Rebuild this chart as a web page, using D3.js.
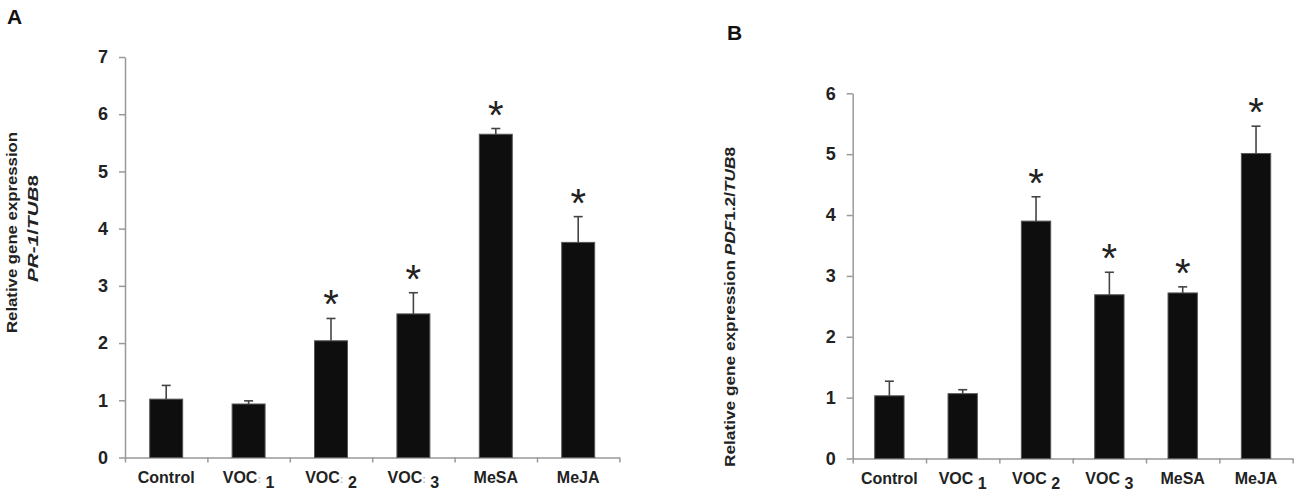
<!DOCTYPE html>
<html>
<head>
<meta charset="utf-8">
<script src="https://cdn.jsdelivr.net/npm/d3@7"></script>
<style>
  body { margin: 0; background: #fff; }
  svg { display: block; font-family: "Liberation Sans", Arial, sans-serif; }
  .axis path, .axis line { stroke: #999; stroke-width: 1.5; }
  .axis text { fill: #222; font-weight: bold; }
</style>
</head>
<body>
<div id="viz"></div>
<script>
// categories (main text + subscript)
const catMain = ["Control", "VOC", "VOC", "VOC", "MeSA", "MeJA"];
const catSub = ["", "1", "2", "3", "", ""];

// panel A: PR-1/TUB8
const meansA = [1.02, 0.935, 2.04, 2.51, 5.65, 3.76];
const errA = [0.24, 0.055, 0.39, 0.37, 0.10, 0.45];
const sigA = [false, false, true, true, true, true];
const ticksA = [0, 1, 2, 3, 4, 5, 6, 7];

// panel B: PDF1.2/TUB8
const meansB = [1.03, 1.065, 3.90, 2.69, 2.72, 5.01];
const errB = [0.24, 0.065, 0.40, 0.37, 0.10, 0.45];
const sigB = [false, false, true, true, true, true];
const ticksB = [0, 1, 2, 3, 4, 5, 6];

const svg = d3.select("#viz").append("svg")
  .attr("width", 1300)
  .attr("height", 498);

const drawPanel = function(p) {
  const g = svg.append("g");
  const n = catMain.length;

  const x = d3.scaleBand()
    .domain(d3.range(n))
    .range([p.x0, p.x1])
    .paddingInner(0.6)
    .paddingOuter(0.3);
  const cx = i => x(i) + x.bandwidth() / 2;

  // boundaries between categories, used for the x tick marks
  const xb = d3.scaleLinear()
    .domain([0, n])
    .range([p.x0, p.x1]);

  const y = d3.scaleLinear()
    .domain([0, d3.max(p.ticks)])
    .range([p.y0, p.y1]);

  // y axis
  g.append("g")
    .attr("class", "axis")
    .attr("transform", `translate(${p.x0},0)`)
    .call(d3.axisLeft(y).tickValues(p.ticks).tickFormat(d3.format("d"))
      .tickSize(6).tickSizeOuter(0).tickPadding(11))
    .selectAll("text")
      .style("font-size", "18px");

  // x axis line + boundary ticks
  g.append("g")
    .attr("class", "axis")
    .attr("transform", `translate(0,${p.y0})`)
    .call(d3.axisBottom(xb).tickValues(d3.range(n + 1)).tickSize(5).tickSizeOuter(0).tickFormat(""));

  // x labels
  catMain.forEach(function(d, i) {
    const t = g.append("text")
      .attr("x", cx(i))
      .attr("y", p.y0 + 25)
      .attr("text-anchor", "middle")
      .style("font-size", "16px")
      .style("font-weight", "bold")
      .style("fill", "#222")
      .text(d);
    if (catSub[i] !== "") {
      if (p.colon) {
        t.append("tspan").style("fill", "#bbb").style("font-size", "11px").text(":");
      }
      t.append("tspan")
        .attr("dy", 5)
        .text(" " + catSub[i]);
    }
  });

  // bars
  g.selectAll(".bar")
    .data(p.means)
    .enter().append("rect")
      .attr("class", "bar")
      .attr("x", (d, i) => x(i))
      .attr("y", d => y(d))
      .attr("width", x.bandwidth())
      .attr("height", d => p.y0 - y(d))
      .attr("fill", "#0e0e0e")
      .attr("stroke", "#555")
      .attr("stroke-width", 1);

  // error bars (upper only)
  const eb = g.selectAll(".err")
    .data(p.means)
    .enter().append("g")
      .attr("class", "err")
      .attr("stroke", "#444")
      .attr("stroke-width", 1.6);
  eb.append("line")
    .attr("x1", (d, i) => cx(i))
    .attr("x2", (d, i) => cx(i))
    .attr("y1", d => y(d))
    .attr("y2", (d, i) => y(d + p.err[i]));
  eb.append("line")
    .attr("x1", (d, i) => cx(i) - 4.5)
    .attr("x2", (d, i) => cx(i) + 4.5)
    .attr("y1", (d, i) => y(d + p.err[i]))
    .attr("y2", (d, i) => y(d + p.err[i]));

  // significance stars
  const fs = 40;
  p.means.forEach(function(d, i) {
    if (!p.sig[i]) return;
    g.append("text")
      .attr("x", cx(i))
      .attr("y", y(d + p.err[i]) - 22 + 0.55 * fs)
      .attr("text-anchor", "middle")
      .style("font-size", fs + "px")
      .style("fill", "#222")
      .text("*");
  });

  // panel letter
  g.append("text")
    .attr("x", p.letterX)
    .attr("y", p.letterY)
    .style("font-size", "21px")
    .style("font-weight", "bold")
    .style("fill", "#111")
    .text(p.letter);

  // y label
  p.ylab.forEach(function(l) {
    const t = g.append("text")
      .attr("transform", `translate(${l.x},${l.y}) rotate(-90)`)
      .attr("text-anchor", "middle")
      .attr("textLength", l.len)
      .attr("lengthAdjust", "spacingAndGlyphs")
      .style("font-size", "15px")
      .style("font-weight", "bold")
      .style("fill", "#222");
    l.parts.forEach(function(pt) {
      t.append("tspan")
        .style("font-style", pt.it ? "italic" : "normal")
        .text(pt.s);
    });
  });
};

drawPanel({
  x0: 125, x1: 619.4, y0: 457.5, y1: 57,
  ticks: ticksA, means: meansA, err: errA, sig: sigA,
  colon: true,
  letter: "A", letterX: 7, letterY: 24,
  ylab: [
    { x: 17, y: 232.5, len: 201, parts: [{ s: "Relative gene expression" }] },
    { x: 38, y: 228.5, len: 107, parts: [{ s: "PR-1", it: true }, { s: "/" }, { s: "TUB", it: true }, { s: "8" }] }
  ]
});

drawPanel({
  x0: 852.7, x1: 1292.7, y0: 458.5, y1: 93.3,
  ticks: ticksB, means: meansB, err: errB, sig: sigB,
  colon: false,
  letter: "B", letterX: 727, letterY: 40,
  ylab: [
    { x: 735, y: 307, len: 320, parts: [{ s: "Relative gene expression " }, { s: "PDF", it: true }, { s: "1.2/" }, { s: "TUB", it: true }, { s: "8" }] }
  ]
});
</script>
</body>
</html>
